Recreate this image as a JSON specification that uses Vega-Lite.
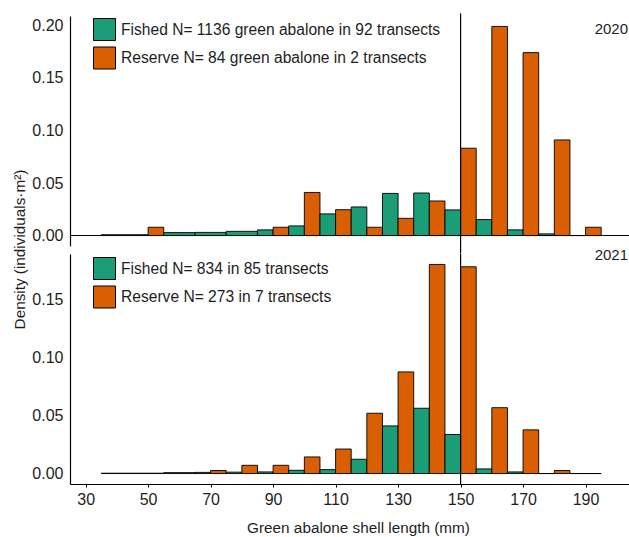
{
  "$schema": "https://vega.github.io/schema/vega-lite/v6.json",
  "padding": {"left": 12, "top": 12, "right": 0, "bottom": 2},
  "bounds": "flush",
  "spacing": 8,
  "config": {
    "view": {"stroke": null},
    "font": "Liberation Sans",
    "axis": {
      "grid": false,
      "domainColor": "black",
      "domainWidth": 1.2,
      "tickColor": "black",
      "tickWidth": 1,
      "labelFont": "Liberation Sans",
      "labelFontSize": 16,
      "labelColor": "#1e1e1e",
      "titleFont": "Liberation Sans",
      "titleFontSize": 15.3,
      "titleFontWeight": "normal",
      "titleColor": "#1e1e1e"
    },
    "legend": {
      "symbolType": "square",
      "symbolSize": 484,
      "symbolStrokeColor": "black",
      "symbolStrokeWidth": 1,
      "labelFont": "Liberation Sans",
      "labelFontSize": 15.6,
      "labelColor": "#1e1e1e",
      "labelOffset": 5,
      "labelLimit": 0,
      "rowPadding": 1.5,
      "padding": 0
    }
  },
  "datasets": {
    "d2020": [
      {"group": "Fished", "lo": 35, "hi": 45, "density": 0.0008},
      {"group": "Fished", "lo": 45, "hi": 50, "density": 0.0008},
      {"group": "Reserve", "lo": 50, "hi": 55, "density": 0.0079},
      {"group": "Fished", "lo": 55, "hi": 65, "density": 0.0028},
      {"group": "Fished", "lo": 65, "hi": 75, "density": 0.003},
      {"group": "Fished", "lo": 75, "hi": 85, "density": 0.004},
      {"group": "Fished", "lo": 85, "hi": 90, "density": 0.0054},
      {"group": "Reserve", "lo": 90, "hi": 95, "density": 0.0079},
      {"group": "Fished", "lo": 95, "hi": 100, "density": 0.0092},
      {"group": "Reserve", "lo": 100, "hi": 105, "density": 0.041},
      {"group": "Fished", "lo": 105, "hi": 110, "density": 0.0206},
      {"group": "Reserve", "lo": 110, "hi": 115, "density": 0.0246},
      {"group": "Fished", "lo": 115, "hi": 120, "density": 0.0272},
      {"group": "Reserve", "lo": 120, "hi": 125, "density": 0.0079},
      {"group": "Fished", "lo": 125, "hi": 130, "density": 0.0401},
      {"group": "Reserve", "lo": 130, "hi": 135, "density": 0.0164},
      {"group": "Fished", "lo": 135, "hi": 140, "density": 0.0405},
      {"group": "Reserve", "lo": 140, "hi": 145, "density": 0.0329},
      {"group": "Fished", "lo": 145, "hi": 150, "density": 0.0244},
      {"group": "Reserve", "lo": 150, "hi": 155, "density": 0.0831},
      {"group": "Fished", "lo": 155, "hi": 160, "density": 0.0152},
      {"group": "Reserve", "lo": 160, "hi": 165, "density": 0.199},
      {"group": "Fished", "lo": 165, "hi": 170, "density": 0.0054},
      {"group": "Reserve", "lo": 170, "hi": 175, "density": 0.1741},
      {"group": "Fished", "lo": 175, "hi": 180, "density": 0.0016},
      {"group": "Reserve", "lo": 180, "hi": 185, "density": 0.091},
      {"group": "Fished", "lo": 185, "hi": 190, "density": 0},
      {"group": "Reserve", "lo": 190, "hi": 195, "density": 0.0079}
    ],
    "d2021": [
      {"group": "Fished", "lo": 35, "hi": 45, "density": 0.0003},
      {"group": "Fished", "lo": 45, "hi": 55, "density": 0.0003},
      {"group": "Fished", "lo": 55, "hi": 65, "density": 0.0008},
      {"group": "Fished", "lo": 65, "hi": 70, "density": 0.001},
      {"group": "Reserve", "lo": 70, "hi": 75, "density": 0.0026},
      {"group": "Fished", "lo": 75, "hi": 80, "density": 0.0012},
      {"group": "Reserve", "lo": 80, "hi": 85, "density": 0.0071},
      {"group": "Fished", "lo": 85, "hi": 90, "density": 0.0014},
      {"group": "Reserve", "lo": 90, "hi": 95, "density": 0.0071},
      {"group": "Fished", "lo": 95, "hi": 100, "density": 0.0028},
      {"group": "Reserve", "lo": 100, "hi": 105, "density": 0.0143},
      {"group": "Fished", "lo": 105, "hi": 110, "density": 0.0034},
      {"group": "Reserve", "lo": 110, "hi": 115, "density": 0.0211},
      {"group": "Fished", "lo": 115, "hi": 120, "density": 0.0123},
      {"group": "Reserve", "lo": 120, "hi": 125, "density": 0.0519},
      {"group": "Fished", "lo": 125, "hi": 130, "density": 0.041},
      {"group": "Reserve", "lo": 130, "hi": 135, "density": 0.0875},
      {"group": "Fished", "lo": 135, "hi": 140, "density": 0.0562},
      {"group": "Reserve", "lo": 140, "hi": 145, "density": 0.18},
      {"group": "Fished", "lo": 145, "hi": 150, "density": 0.0336},
      {"group": "Reserve", "lo": 150, "hi": 155, "density": 0.178},
      {"group": "Fished", "lo": 155, "hi": 160, "density": 0.004},
      {"group": "Reserve", "lo": 160, "hi": 165, "density": 0.0567},
      {"group": "Fished", "lo": 165, "hi": 170, "density": 0.0014},
      {"group": "Reserve", "lo": 170, "hi": 175, "density": 0.0376},
      {"group": "Fished", "lo": 175, "hi": 180, "density": 0},
      {"group": "Reserve", "lo": 180, "hi": 185, "density": 0.0026},
      {"group": "Fished", "lo": 185, "hi": 195, "density": 0}
    ]
  },
  "resolve": {"scale": {"y": "independent", "color": "independent"}, "legend": {"color": "independent"}},
  "vconcat": [
    {
      "width": 559,
      "height": 230,
      "layer": [
        {
          "data": {"values": [{"ref": 0}]},
          "mark": {"type": "rule", "color": "black", "strokeWidth": 1},
          "encoding": {
            "y": {"field": "ref", "type": "quantitative", "scale": {"domain": [-0.00995, 0.20895], "nice": false, "zero": false}}
          }
        },
        {
          "data": {"name": "d2020"},
          "mark": {"type": "bar", "stroke": "black", "strokeWidth": 0.9},
          "encoding": {
            "x": {"field": "lo", "type": "quantitative", "scale": {"domain": [25, 203.9], "nice": false, "zero": false}, "axis": null},
            "x2": {"field": "hi"},
            "y": {"field": "density", "type": "quantitative",
                  "axis": {"values": [0, 0.05, 0.1, 0.15, 0.2], "format": ".2f", "tickSize": 0, "labelPadding": 7, "title": "Density (individuals·m²)", "titleY": 233, "titleX": -43}},
            "y2": {"datum": 0},
            "color": {"field": "group", "type": "nominal",
                      "scale": {"domain": ["Fished", "Reserve"], "range": ["#1B9E77", "#D95F02"]},
                      "legend": {"title": null, "orient": "none", "legendX": 23, "legendY": 2,
                                 "labelExpr": "datum.label == 'Fished' ? 'Fished N= 1136 green abalone in 92 transects' : 'Reserve N= 84 green abalone in 2 transects'"}}
          }
        },
        {
          "data": {"values": [{"len": 150, "top": 0.2114, "bot": -0.0171}]},
          "mark": {"type": "rule", "color": "black", "strokeWidth": 1.2, "clip": false},
          "encoding": {
            "x": {"field": "len", "type": "quantitative", "axis": null},
            "y": {"field": "top", "type": "quantitative"},
            "y2": {"field": "bot"}
          }
        },
        {
          "data": {"values": [{"label": "2020", "px": 203.9, "py": 0.1965}]},
          "mark": {"type": "text", "align": "right", "baseline": "middle", "fontSize": 15, "dx": -1, "color": "#1e1e1e", "font": "Liberation Sans"},
          "encoding": {
            "x": {"field": "px", "type": "quantitative", "axis": null},
            "y": {"field": "py", "type": "quantitative"},
            "text": {"field": "label"}
          }
        }
      ]
    },
    {
      "width": 559,
      "height": 230,
      "layer": [
        {
          "data": {"name": "d2021"},
          "mark": {"type": "bar", "stroke": "black", "strokeWidth": 0.9},
          "encoding": {
            "x": {"field": "lo", "type": "quantitative", "scale": {"domain": [25, 203.9], "nice": false, "zero": false},
                  "axis": {"values": [30, 50, 70, 90, 110, 130, 150, 170, 190], "tickSize": 3, "labelPadding": 4, "title": "Green abalone shell length (mm)", "titlePadding": 13, "titleX": 288}},
            "x2": {"field": "hi"},
            "y": {"field": "density", "type": "quantitative", "scale": {"domain": [-0.009, 0.189], "nice": false, "zero": false},
                  "axis": {"values": [0, 0.05, 0.1, 0.15], "format": ".2f", "tickSize": 0, "labelPadding": 7, "title": null}},
            "y2": {"datum": 0},
            "color": {"field": "group", "type": "nominal",
                      "scale": {"domain": ["Fished", "Reserve"], "range": ["#1B9E77", "#D95F02"]},
                      "legend": {"title": null, "orient": "none", "legendX": 23, "legendY": 3,
                                 "labelExpr": "datum.label == 'Fished' ? 'Fished N= 834 in 85 transects' : 'Reserve N= 273 in 7 transects'"}}
          }
        },
        {
          "data": {"values": [{"len": 150}]},
          "mark": {"type": "rule", "color": "black", "strokeWidth": 1.2},
          "encoding": {
            "x": {"field": "len", "type": "quantitative"}
          }
        },
        {
          "data": {"values": [{"label": "2021", "px": 203.9, "py": 0.1883}]},
          "mark": {"type": "text", "align": "right", "baseline": "middle", "fontSize": 15, "dx": -1, "color": "#1e1e1e", "font": "Liberation Sans", "clip": false},
          "encoding": {
            "x": {"field": "px", "type": "quantitative"},
            "y": {"field": "py", "type": "quantitative"},
            "text": {"field": "label"}
          }
        }
      ]
    }
  ]
}
